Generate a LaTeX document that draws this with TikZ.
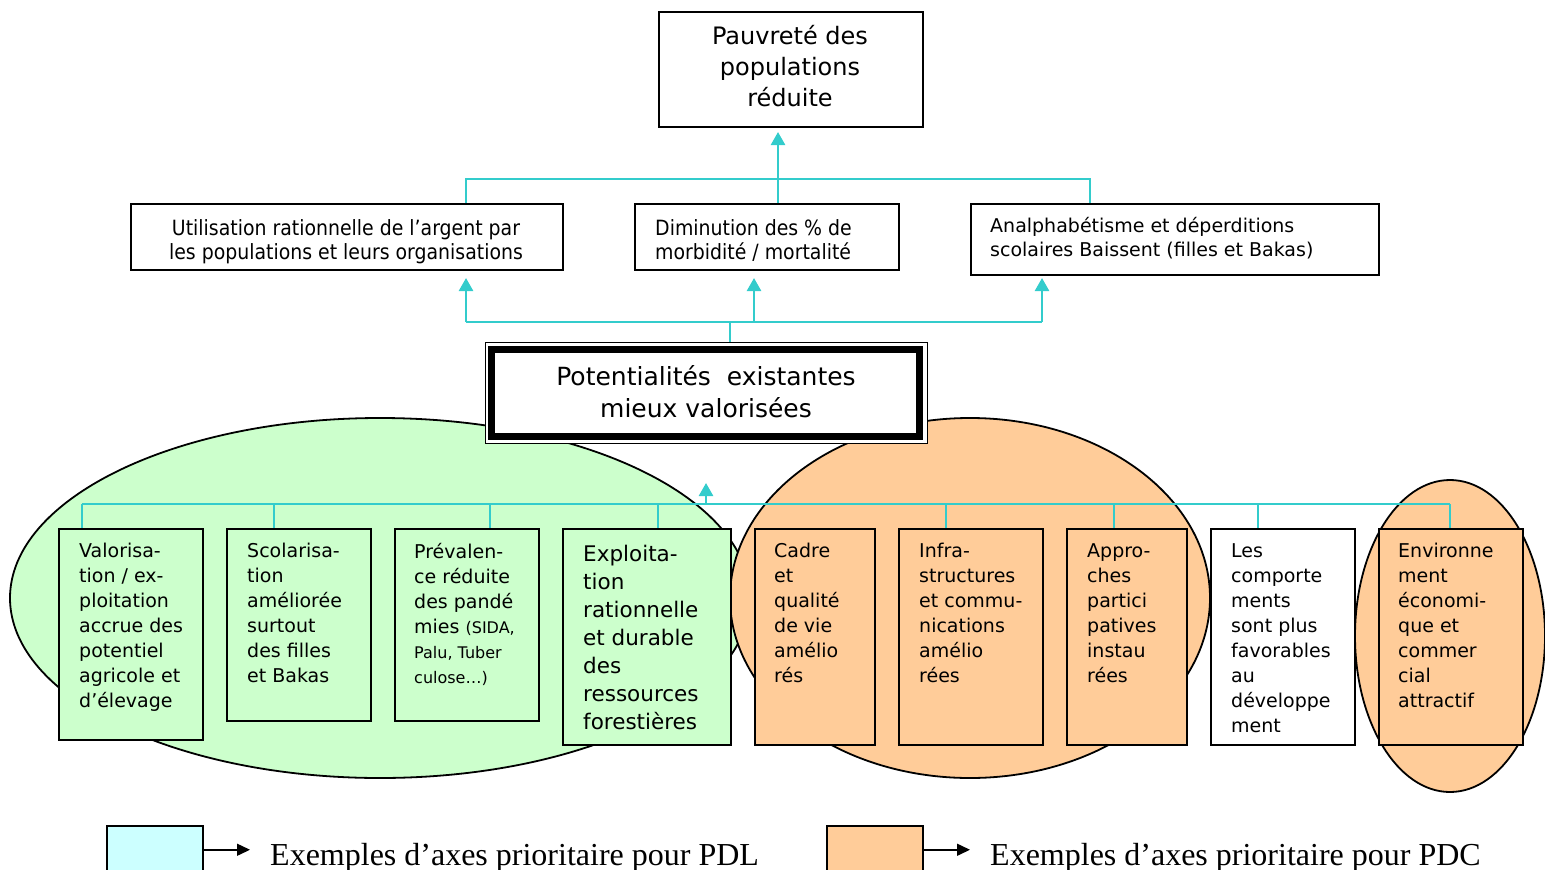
\documentclass[tikz,border=0pt]{standalone}
\usepackage{fontspec}
\setmainfont{DejaVu Sans}
\newfontfamily\narrowfont{DejaVu Sans Condensed}
\newfontfamily\legendfont{Liberation Serif}
\usetikzlibrary{arrows.meta}
\definecolor{leafgreen}{HTML}{CCFFCC}
\definecolor{peach}{HTML}{FFCC99}
\definecolor{paleaqua}{HTML}{CCFFFF}
\definecolor{linkcyan}{HTML}{33CCCC}
\tikzset{
  box/.style={draw=black, line width=2pt, inner sep=0pt, anchor=north west},
  link/.style={draw=linkcyan, line width=2.5pt},
  uplink/.style={link, -{Triangle[width=14pt,length=13pt]}},
  blob/.style={draw=black, line width=1.8pt},
  txt/.style={anchor=north west, inner sep=0pt, align=left,
    font=\fontsize{19}{25}\selectfont, execute at begin node=\strut},
  bigtxt/.style={txt, font=\fontsize{21.5}{28}\selectfont},
  legtxt/.style={anchor=base west, inner sep=0pt, font=\legendfont\fontsize{32}{36}\selectfont},
  legarrow/.style={draw=black, line width=1.5pt, -{Triangle[width=12pt,length=13pt]}}
}
\newcommand{\smalltxt}{\fontsize{16}{25}\selectfont}
\begin{document}
\begin{tikzpicture}[x=1pt,y=-1pt]
\useasboundingbox (0,0) rectangle (1545,870);
\clip (0,0) rectangle (1545,870);

% grouping ellipses
\draw[blob, fill=leafgreen] (380,598) ellipse [x radius=370, y radius=180];
\draw[blob, fill=peach] (970,598) ellipse [x radius=240, y radius=180];
\draw[blob, fill=peach] (1450,636) ellipse [x radius=95, y radius=156];

% top goal
\node[box, minimum width=264pt, minimum height=115pt] (top) at (658,11) {};
\node[txt, anchor=north, align=center, font=\fontsize{24}{31}\selectfont] (topt) at (790,25.3)
  {Pauvreté des\\populations\\réduite};

% intermediate results
\node[box, minimum width=432pt, minimum height=66pt] (m1) at (130,203) {};
\node[txt, anchor=north, align=center, font=\narrowfont\fontsize{21}{23.5}\selectfont] (m1t) at (346,219.5)
  {Utilisation rationnelle de l’argent par\\les populations et leurs organisations};
\node[box, minimum width=264pt, minimum height=66pt] (m2) at (634,203) {};
\node[txt, font=\narrowfont\fontsize{21}{23.5}\selectfont] (m2t) at (655,219.5)
  {Diminution des \% de\\morbidité / mortalité};
\node[box, minimum width=408pt, minimum height=71pt] (m3) at (970,203) {};
\node[txt, font=\fontsize{19}{24}\selectfont] (m3t) at (990,217.2)
  {Analphabétisme et déperditions\\scolaires Baissent (filles et Bakas)};

% central node with double frame
\node[box, line width=1pt, fill=white, minimum width=442pt, minimum height=101pt] (cen) at (485,342) {};
\node[draw=black, line width=7pt, inner sep=0pt, minimum width=428pt, minimum height=87pt] (cenframe) at (705.5,393) {};
\node[txt, anchor=north, align=center, font=\fontsize{25}{32}\selectfont] (cent) at (706,365.6)
  {Potentialités~ existantes\\mieux valorisées};

% upper connectors
\coordinate (u1) at (466,179);
\coordinate (uc) at (778,179);
\coordinate (u3) at (1090,179);
\draw[link] (u1 |- m1.north) -- (u1) -- (u3) -- (u3 |- m3.north);
\draw[link] (uc |- m2.north) -- (uc);
\draw[uplink, shorten >=4pt] (uc) -- (uc |- top.south);

% lower connectors
\coordinate (l1) at (466,322);
\coordinate (l2) at (754,322);
\coordinate (lc) at (730,322);
\coordinate (l3) at (1042,322);
\draw[link] (l1) -- (l3);
\draw[link] (lc) -- (lc |- cen.north);
\draw[uplink, shorten >=7pt] (l1) -- (l1 |- m1.south);
\draw[uplink, shorten >=7pt] (l2) -- (l2 |- m2.south);
\draw[uplink, shorten >=2pt] (l3) -- (l3 |- m3.south);

% bottom bus
\coordinate (k1) at (82,504);
\coordinate (k2) at (274,504);
\coordinate (k3) at (490,504);
\coordinate (k4) at (658,504);
\coordinate (kc) at (706,504);
\coordinate (k6) at (946,504);
\coordinate (k7) at (1114,504);
\coordinate (k8) at (1258,504);
\coordinate (k9) at (1450,504);
\draw[link] (k1) -- (k9);
\draw[uplink, shorten >=39pt] (kc) -- (kc |- cen.south);

% bottom boxes
\node[box, fill=leafgreen, minimum width=144pt, minimum height=211pt] (b1) at (58,528) {};
\node[box, fill=leafgreen, minimum width=144pt, minimum height=192pt] (b2) at (226,528) {};
\node[box, fill=leafgreen, minimum width=144pt, minimum height=192pt] (b3) at (394,528) {};
\node[box, fill=leafgreen, minimum width=168pt, minimum height=216pt] (b4) at (562,528) {};
\node[box, fill=peach, minimum width=120pt, minimum height=216pt] (b5) at (754,528) {};
\node[box, fill=peach, minimum width=144pt, minimum height=216pt] (b6) at (898,528) {};
\node[box, fill=peach, minimum width=120pt, minimum height=216pt] (b7) at (1066,528) {};
\node[box, fill=white, minimum width=144pt, minimum height=216pt] (b8) at (1210,528) {};
\node[box, fill=peach, minimum width=144pt, minimum height=216pt] (b9) at (1378,528) {};

\foreach \k/\b in {k1/b1,k2/b2,k3/b3,k4/b4,k6/b6,k7/b7,k8/b8,k9/b9}
  \draw[link] (\k) -- (\k |- \b.north);

\node[txt] (b1t) at ([xshift=21pt,yshift=-15pt]b1.north west)
  {Valorisa-\\tion / ex-\\ploitation\\accrue des\\potentiel\\agricole et\\d’élevage};
\node[txt] (b2t) at ([xshift=21pt,yshift=-15pt]b2.north west)
  {Scolarisa-\\tion\\améliorée\\surtout\\des filles\\et Bakas};
\node[txt] (b3t) at ([xshift=20pt,yshift=-15pt]b3.north west)
  {Prévalen-\\ce réduite\\des pandé\\mies {\smalltxt(SIDA,}\\{\smalltxt Palu, Tuber}\\{\smalltxt culose…)}};
\node[bigtxt] (b4t) at ([xshift=21pt,yshift=-16.5pt]b4.north west)
  {Exploita-\\tion\\rationnelle\\et durable\\des\\ressources\\forestières};
\node[txt] (b5t) at ([xshift=20pt,yshift=-15pt]b5.north west)
  {Cadre\\et\\qualité\\de vie\\amélio\\rés};
\node[txt] (b6t) at ([xshift=21pt,yshift=-15pt]b6.north west)
  {Infra-\\structures\\et commu-\\nications\\amélio\\rées};
\node[txt] (b7t) at ([xshift=21pt,yshift=-15pt]b7.north west)
  {Appro-\\ches\\partici\\patives\\instau\\rées};
\node[txt] (b8t) at ([xshift=21pt,yshift=-15pt]b8.north west)
  {Les\\comporte\\ments\\sont plus\\favorables\\au\\développe\\ment};
\node[txt] (b9t) at ([xshift=20pt,yshift=-15pt]b9.north west)
  {Environne\\ment\\économi-\\que et\\commer\\cial\\attractif};

% legend
\node[box, line width=1.5pt, fill=paleaqua, minimum width=96pt, minimum height=48pt] (leg1) at (106,825) {};
\node[legtxt] (leg1t) at (270,865) {Exemples d’axes prioritaire pour PDL};
\draw[legarrow] (leg1.east) -- ([xshift=-20pt]leg1t.base west |- leg1.east);
\node[box, line width=1.5pt, fill=peach, minimum width=96pt, minimum height=48pt] (leg2) at (826,825) {};
\node[legtxt] (leg2t) at (990,865) {Exemples d’axes prioritaire pour PDC};
\draw[legarrow] (leg2.east) -- ([xshift=-20pt]leg2t.base west |- leg2.east);
\end{tikzpicture}
\end{document}
